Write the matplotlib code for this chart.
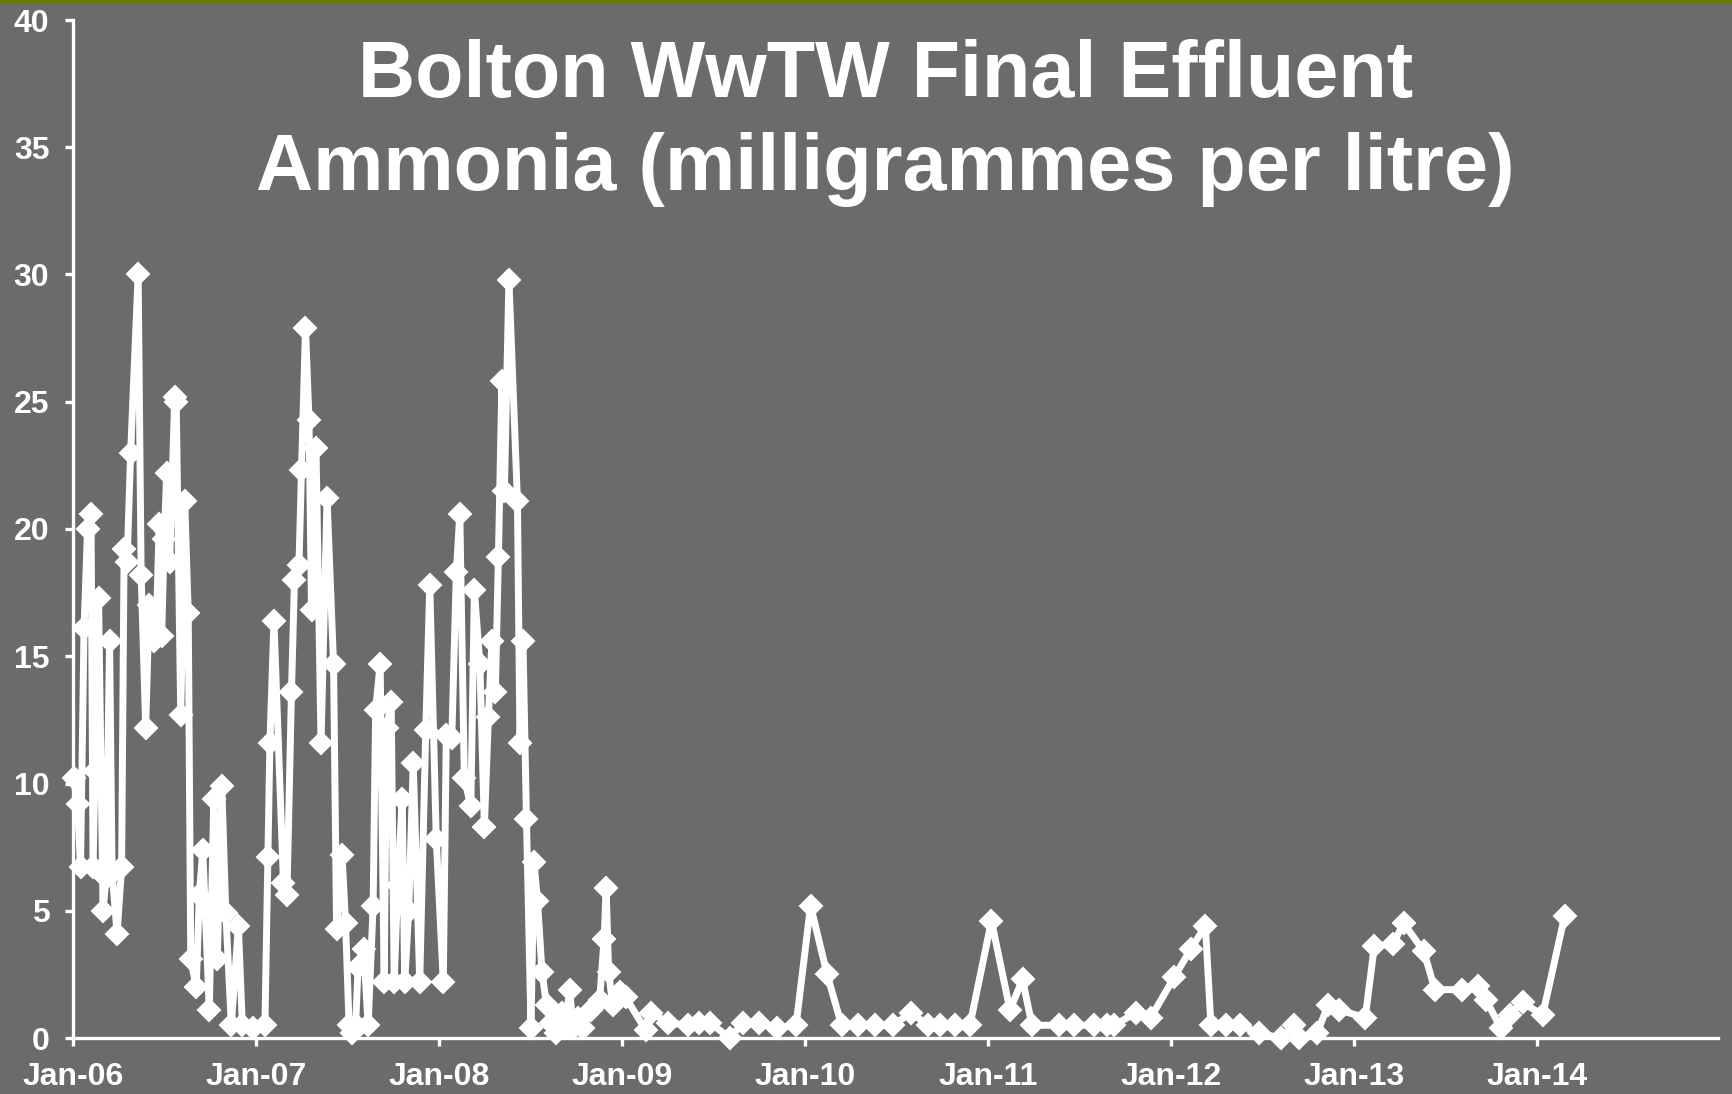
import matplotlib
matplotlib.use("Agg")
import matplotlib.pyplot as plt
import matplotlib.dates as mdates
import pandas as pd
from matplotlib.patches import Rectangle

plt.rcParams['font.family'] = ['Liberation Sans', 'DejaVu Sans']

title_line1 = "Bolton WwTW Final Effluent"
title_line2 = "Ammonia (milligrammes per litre)"

y_ticks = [0, 5, 10, 15, 20, 25, 30, 35, 40]

dates_2006 = ['2006-01-02', '2006-01-10', '2006-01-16', '2006-01-23', '2006-01-30', '2006-02-06',
              '2006-02-10', '2006-02-14', '2006-02-21', '2006-03-02', '2006-03-08', '2006-03-15',
              '2006-03-20', '2006-03-30', '2006-04-08', '2006-04-13', '2006-04-19', '2006-04-26',
              '2006-05-11', '2006-05-17', '2006-05-26', '2006-06-02', '2006-06-11', '2006-06-16',
              '2006-06-22', '2006-06-27', '2006-07-02', '2006-07-07', '2006-07-13', '2006-07-23',
              '2006-07-26', '2006-08-04', '2006-08-12', '2006-08-19', '2006-08-24', '2006-09-04',
              '2006-09-10', '2006-09-17', '2006-09-30', '2006-10-09', '2006-10-16', '2006-10-25',
              '2006-11-02', '2006-11-13', '2006-11-27', '2006-12-05', '2006-12-27']
values_2006 = [10.2, 9.2, 6.7, 16.1, 20.0, 20.6, 6.7, 10.5, 17.3, 5.0, 6.3, 15.6,
               6.5, 4.1, 6.7, 19.2, 18.7, 23.0, 30.0, 18.2, 12.2, 17.0, 15.6, 16.0,
               20.2, 15.8, 19.6, 22.2, 18.7, 25.2, 25.0, 12.7, 21.1, 16.7, 3.1, 2.0,
               5.6, 7.4, 1.1, 9.4, 3.1, 9.9, 4.9, 0.5, 4.4, 0.5, 0.4]

dates_2007 = ['2007-01-19', '2007-01-25', '2007-01-29', '2007-02-06', '2007-02-25', '2007-03-04',
              '2007-03-13', '2007-03-19', '2007-03-28', '2007-04-02', '2007-04-10', '2007-04-17',
              '2007-04-22', '2007-05-01', '2007-05-11', '2007-05-23', '2007-06-05', '2007-06-11',
              '2007-06-22', '2007-06-29', '2007-07-06', '2007-07-12', '2007-07-19', '2007-07-24',
              '2007-08-04', '2007-08-13', '2007-08-23', '2007-08-28', '2007-09-06', '2007-09-14',
              '2007-09-19', '2007-09-28', '2007-10-04', '2007-10-11', '2007-10-20', '2007-10-25',
              '2007-11-02', '2007-11-11', '2007-11-24', '2007-12-06', '2007-12-14', '2007-12-27']
values_2007 = [0.5, 7.1, 11.6, 16.4, 6.1, 5.6, 13.6, 18.0, 18.6, 22.3, 27.9, 24.3,
               16.8, 23.2, 11.6, 21.2, 14.7, 4.3, 7.2, 4.5, 0.5, 0.2, 0.5, 2.8,
               3.5, 0.5, 5.2, 12.9, 14.7, 2.2, 12.2, 13.2, 2.2, 6.0, 9.4, 2.2,
               5.0, 10.8, 2.2, 12.1, 17.8, 7.8]

dates_2008 = ['2008-01-10', '2008-01-16', '2008-01-27', '2008-02-05', '2008-02-12', '2008-02-21',
              '2008-03-05', '2008-03-12', '2008-03-23', '2008-04-01', '2008-04-09', '2008-04-16',
              '2008-04-23', '2008-04-29', '2008-05-06', '2008-05-11', '2008-05-20', '2008-06-06',
              '2008-06-11', '2008-06-17', '2008-06-24', '2008-07-03', '2008-07-09', '2008-07-16',
              '2008-07-25', '2008-08-03', '2008-08-11', '2008-08-22', '2008-09-02', '2008-09-09',
              '2008-09-18', '2008-09-25', '2008-10-04', '2008-10-15', '2008-10-30', '2008-11-17',
              '2008-11-26', '2008-11-30', '2008-12-05', '2008-12-13', '2008-12-27']
values_2008 = [2.2, 11.9, 11.8, 18.3, 20.6, 10.2, 9.1, 17.6, 14.7, 8.3, 12.6, 15.6,
               13.6, 18.9, 25.8, 21.5, 29.8, 21.1, 11.6, 15.6, 8.6, 0.4, 6.9, 5.4,
               2.6, 1.3, 0.6, 0.2, 1.0, 0.4, 1.9, 0.4, 0.8, 0.4, 1.1, 1.5,
               3.9, 5.9, 2.6, 1.3, 1.8]

dates_2009 = ['2009-01-08', '2009-02-17', '2009-02-28', '2009-04-02', '2009-05-12', '2009-06-03',
              '2009-06-25', '2009-08-04', '2009-08-30', '2009-10-02', '2009-11-07', '2009-12-14']
values_2009 = [1.6, 0.3, 1.0, 0.6, 0.5, 0.6, 0.6, 0.0, 0.6, 0.6, 0.4, 0.5]

dates_2010 = ['2010-01-12', '2010-02-14', '2010-03-15', '2010-04-17', '2010-05-20', '2010-06-25',
              '2010-08-01', '2010-09-03', '2010-09-28', '2010-10-27', '2010-11-26']
values_2010 = [5.2, 2.5, 0.5, 0.5, 0.5, 0.5, 1.0, 0.5, 0.5, 0.5, 0.5]

dates_2011 = ['2011-01-08', '2011-02-14', '2011-03-11', '2011-03-30', '2011-05-23', '2011-06-22',
              '2011-08-01', '2011-08-26', '2011-09-10', '2011-10-24', '2011-11-22']
values_2011 = [4.6, 1.1, 2.3, 0.5, 0.5, 0.5, 0.5, 0.5, 0.5, 1.0, 0.8]

dates_2012 = ['2012-01-08', '2012-02-10', '2012-03-10', '2012-03-21', '2012-04-20', '2012-05-19',
              '2012-06-24', '2012-08-07', '2012-09-02', '2012-09-13', '2012-10-19', '2012-11-10',
              '2012-12-02']
values_2012 = [2.4, 3.5, 4.4, 0.5, 0.5, 0.5, 0.2, 0.0, 0.5, 0.0, 0.2, 1.3, 1.1]

dates_2013 = ['2013-01-23', '2013-02-10', '2013-03-19', '2013-04-10', '2013-05-20', '2013-06-11',
              '2013-08-04', '2013-09-06', '2013-09-21', '2013-10-20', '2013-11-07', '2013-12-03']
values_2013 = [0.8, 3.6, 3.7, 4.5, 3.4, 1.9, 1.9, 2.05, 1.5, 0.4, 0.9, 1.4]

dates_2014 = ['2014-01-12', '2014-02-25']
values_2014 = [0.9, 4.8]

all_dates = pd.to_datetime(dates_2006 + dates_2007 + dates_2008 + dates_2009 + dates_2010 +
                           dates_2011 + dates_2012 + dates_2013 + dates_2014)
all_values = (values_2006 + values_2007 + values_2008 + values_2009 + values_2010 +
              values_2011 + values_2012 + values_2013 + values_2014)

BG = '#6b6b6b'
W = 1733
H = 1094

fig = plt.figure(figsize=(W / 100, H / 100), dpi=100, facecolor=BG)
ax = fig.add_axes([73 / W, 1 - 1038 / H, (1718 - 73) / W, (1038 - 20) / H])
ax.set_facecolor(BG)

ax.plot(all_dates, all_values, color='white', lw=5, marker='D', ms=11,
        mfc='white', mec='white', mew=1.5, clip_on=False, zorder=3)

ax.set_ylim(0, 40)
ax.set_yticks(y_ticks)
ax.set_xlim(pd.Timestamp('2006-01-01'), pd.Timestamp('2014-12-28'))
ax.xaxis.set_major_locator(mdates.YearLocator())
ax.xaxis.set_major_formatter(mdates.DateFormatter('%b-%y'))

for s in ['top', 'right']:
    ax.spines[s].set_visible(False)
for s in ['left', 'bottom']:
    ax.spines[s].set_color('white')
    ax.spines[s].set_linewidth(2.4)

ax.tick_params(axis='both', colors='white', width=2.4, length=6, direction='out',
               labelsize=23, pad=11)
for lbl in ax.get_xticklabels() + ax.get_yticklabels():
    lbl.set_fontweight('bold')

fig.text(0.511, 1 - 97 / H, title_line1, ha='center', va='baseline',
         fontsize=57, fontweight='bold', color='white')
fig.text(0.511, 1 - 190 / H, title_line2, ha='center', va='baseline',
         fontsize=57, fontweight='bold', color='white')

fig.patches.append(Rectangle((0, 1 - 3 / H), 1, 3 / H, transform=fig.transFigure,
                             facecolor='#607d00', edgecolor='none'))

fig.savefig('out.png', dpi=100, facecolor=BG)
